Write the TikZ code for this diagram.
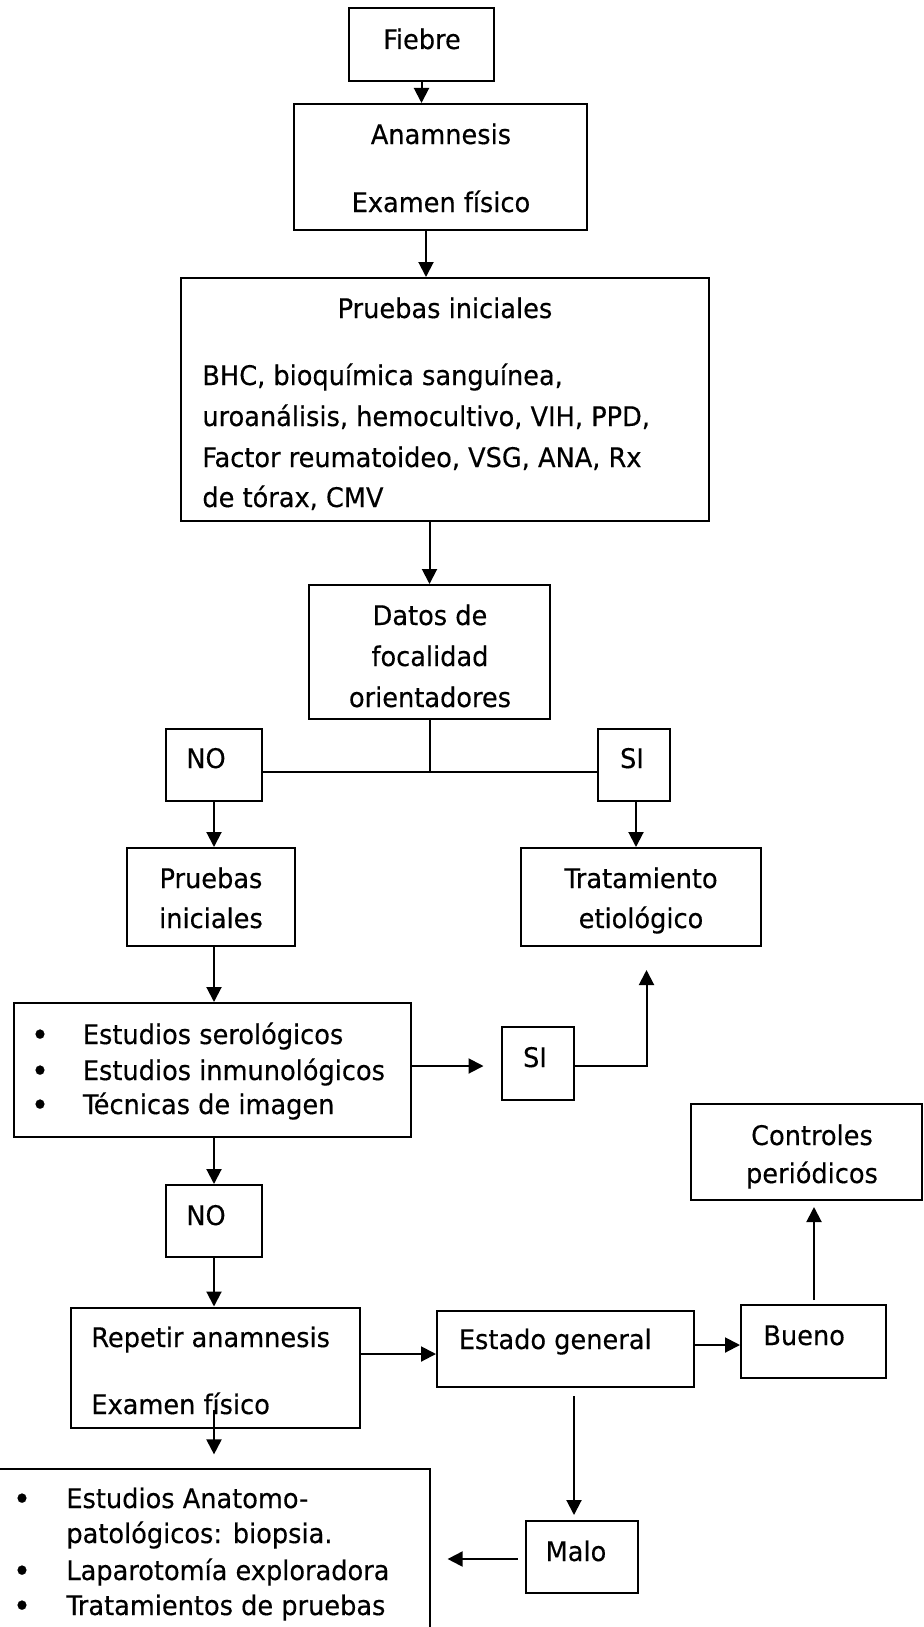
\documentclass[tikz,border=0pt]{standalone}
\usepackage{fontspec}
\setmainfont{DejaVu Sans Condensed}[FakeStretch=1.055,FakeBold=0.35]
\usetikzlibrary{arrows.meta,fit}
\newcommand\diagfont{\fontsize{13.5}{16}\selectfont}
\newcommand\bulfont{\fontsize{16}{16}\selectfont}

\begin{document}
\begin{tikzpicture}[x=0.5pt,y=-0.5pt,
  box/.style={draw, line width=1pt, inner sep=0pt},
  arr/.style={line width=1pt, -{Triangle[length=7.5pt,width=7.5pt]}},
  ln/.style={line width=1pt},
  tc/.style={anchor=base, inner sep=0pt, font=\diagfont},
  tl/.style={anchor=base west, inner sep=0pt, font=\diagfont},
  bul/.style={anchor=base, inner sep=0pt, font=\bulfont},
]
\useasboundingbox[fill=white] (0,0) rectangle (924,1627);

% boxes
\node[box, fit={(349,8) (494,81)}] (fiebre) {};
\node[box, fit={(294,104) (587,230)}] (anam) {};
\node[box, fit={(181,278) (709,521)}] (pru) {};
\node[box, fit={(309,585) (550,719)}] (datos) {};
\node[box, fit={(166,729) (262,801)}] (no1) {};
\node[box, fit={(598,729) (670,801)}] (si1) {};
\node[box, fit={(127,848) (295,946)}] (pru2) {};
\node[box, fit={(521,848) (761,946)}] (trat) {};
\node[box, fit={(13.5,1003) (411,1137)}] (est) {};
\node[box, fit={(501.5,1027) (574,1100)}] (si2) {};
\node[box, fit={(691,1104) (922,1200)}] (ctrl) {};
\node[box, fit={(166,1185) (262,1257)}] (no2) {};
\node[box, fit={(71,1307.5) (359.5,1427.5)}] (rep) {};
\node[box, fit={(437,1310.5) (694,1387)}] (estado) {};
\node[box, fit={(741,1305) (886,1377.5)}] (bueno) {};
\node[box, fit={(525.6,1521) (637.6,1593)}] (malo) {};
\node[box, fit={(-4,1469.4) (429.6,1660)}] (fin) {};

% texts
\node[tc] at (422,49) {Fiebre};
\node[tc] at (441,144) {Anamnesis};
\node[tc] at (441,212) {Examen físico};
\node[tc] at (445,318) {Pruebas iniciales};
\node[tl] at (202,385) {BHC, bioquímica sanguínea,};
\node[tl] at (202,426) {uroanálisis, hemocultivo, VIH, PPD,};
\node[tl] at (202,467) {Factor reumatoideo, VSG, ANA, Rx};
\node[tl] at (202,507) {de tórax, CMV};
\node[tc] at (430,625) {Datos de};
\node[tc] at (430,666) {focalidad};
\node[tc] at (430,707) {orientadores};
\node[tc] at (206,768) {NO};
\node[tc] at (632,768) {SI};
\node[tc] at (211,888) {Pruebas};
\node[tc] at (211,928) {iniciales};
\node[tc] at (641,888) {Tratamiento};
\node[tc] at (641,928) {etiológico};
\node[bul] at (40,1046) {\textbullet};
\node[bul] at (40,1082) {\textbullet};
\node[bul] at (40,1116) {\textbullet};
\node[tl] at (82.5,1044) {Estudios serológicos};
\node[tl] at (82.5,1080) {Estudios inmunológicos};
\node[tl] at (82.5,1114) {Técnicas de imagen};
\node[tc] at (535,1067) {SI};
\node[tc] at (812,1145) {Controles};
\node[tc] at (812,1183) {periódicos};
\node[tc] at (206,1225) {NO};
\node[tl] at (91,1347) {Repetir anamnesis};
\node[tl] at (91,1414) {Examen físico};
\node[tl] at (458.5,1349) {Estado general};
\node[tl] at (763,1345) {Bueno};
\node[tc] at (576,1561) {Malo};
\node[bul] at (22,1510) {\textbullet};
\node[bul] at (22,1582) {\textbullet};
\node[bul] at (22,1617) {\textbullet};
\node[tl] at (66,1508) {Estudios Anatomo-};
\node[tl] at (66,1543) {patológicos: biopsia.};
\node[tl] at (66,1580) {Laparotomía exploradora};
\node[tl] at (66,1615) {Tratamientos de pruebas};

% connectors
\coordinate (j) at (430,772);
\coordinate (repout) at (214,1410);
\draw[arr] (fiebre.south) -- (fiebre.south |- anam.north);
\draw[arr] (anam.south -| 426,0) -- (pru.north -| 426,0);
\draw[arr] (pru.south -| datos.north) -- (datos.north);
\draw[ln] (datos.south -| j) -- (j);
\draw[ln] (no1.east |- j) -- (si1.west |- j);
\draw[arr] (no1.south -| 214,0) -- (pru2.north -| 214,0);
\draw[arr] (si1.south -| 636,0) -- (trat.north -| 636,0);
\draw[arr] (pru2.south -| 214,0) -- (est.north -| 214,0);
\draw[arr, shorten >=8.5pt] (est.east |- 0,1066) -- (si2.west |- 0,1066);
\draw[arr, shorten >=11.5pt] (si2.east |- 0,1066) -| (trat.south -| 646.5,0);
\draw[arr] (est.south -| 214,0) -- (no2.north -| 214,0);
\draw[arr] (no2.south -| 214,0) -- (rep.north -| 214,0);
\draw[arr] (rep.east |- 0,1354) -- (estado.west |- 0,1354);
\draw[arr] (estado.east |- 0,1345) -- (bueno.west |- 0,1345);
\draw[arr, shorten <=2pt, shorten >=3pt] (bueno.north -| 814,0) -- (ctrl.south -| 814,0);
\draw[arr, shorten <=4pt, shorten >=2.5pt] (estado.south -| 574,0) -- (malo.north -| 574,0);
\draw[arr, shorten <=3.5pt, shorten >=8.5pt] (malo.west |- 0,1559) -- (fin.east |- 0,1559);
\draw[arr, shorten >=7pt] (repout) -- (fin.north -| repout);
\end{tikzpicture}
\end{document}
